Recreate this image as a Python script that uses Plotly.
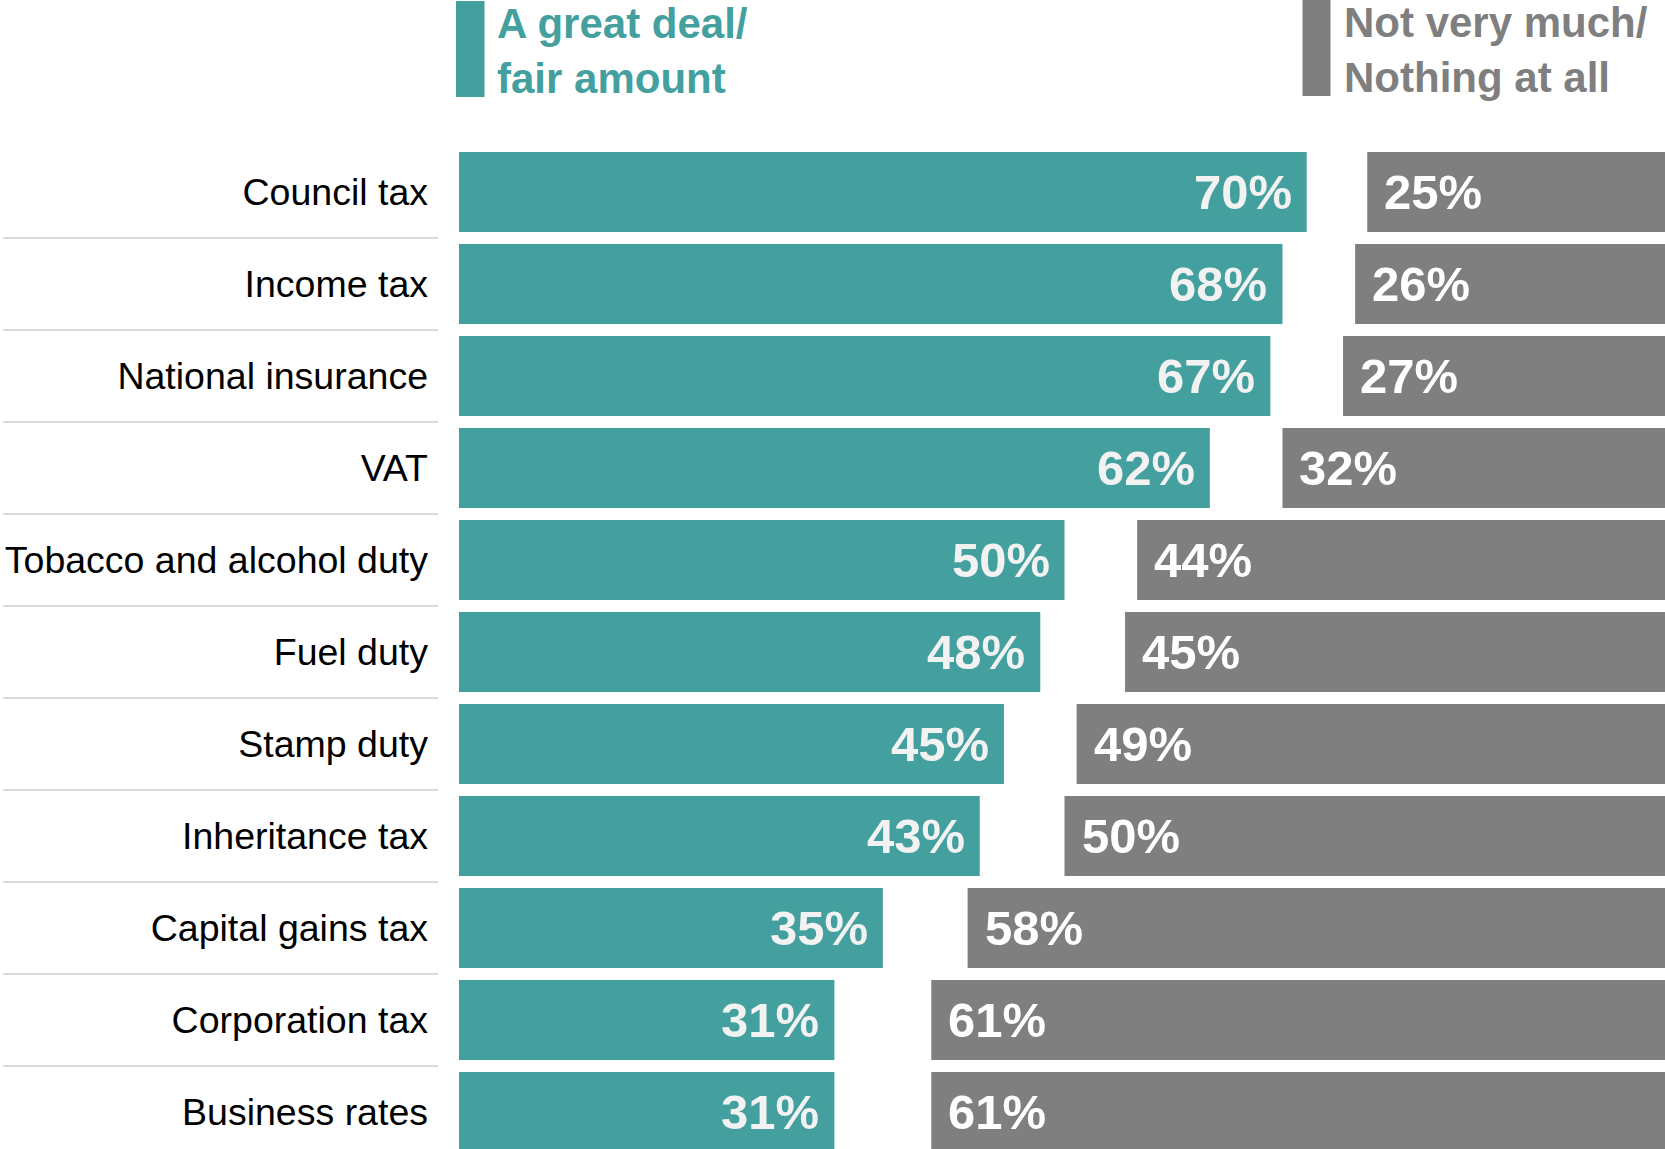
import plotly.graph_objects as go

categories = ["Council tax", "Income tax", "National insurance", "VAT",
              "Tobacco and alcohol duty", "Fuel duty", "Stamp duty",
              "Inheritance tax", "Capital gains tax", "Corporation tax",
              "Business rates"]
great_deal = [70, 68, 67, 62, 50, 48, 45, 43, 35, 31, 31]
not_much = [25, 26, 27, 32, 44, 45, 49, 50, 58, 61, 61]
series_names = ["A great deal/<br>fair amount", "Not very much/<br>Nothing at all"]

TEAL = "#43A09F"
GREY = "#7F7F7F"
FONT = "Liberation Sans, Arial, sans-serif"

W, H = 1665, 1149
ML, MT = 459, 146
PW, PH = W - ML, H - MT
PX_PER_PCT = 12.11
ROW_PX = 92

def px_x(s):
    return (s - ML) / PW

def px_y(s):
    return (H - s) / PH

fig = go.Figure()
fig.add_trace(go.Bar(
    y=categories, x=great_deal, base=[0] * len(great_deal), orientation="h",
    marker=dict(color=TEAL, line=dict(width=0)), width=0.87,
    name="great", hoverinfo="skip"))
fig.add_trace(go.Bar(
    y=categories, x=not_much, base=[100 - v for v in not_much], orientation="h",
    marker=dict(color=GREY, line=dict(width=0)), width=0.87,
    name="not", hoverinfo="skip"))

annotations = []
for c, g, n in zip(categories, great_deal, not_much):
    annotations.append(dict(
        x=g, y=c, xref="x", yref="y", text=f"<b>{g}%</b>", showarrow=False,
        xanchor="right", yanchor="middle", xshift=-13,
        font=dict(family=FONT, size=49, color="#F2F2F2")))
    annotations.append(dict(
        x=100 - n, y=c, xref="x", yref="y", text=f"<b>{n}%</b>", showarrow=False,
        xanchor="left", yanchor="middle", xshift=15,
        font=dict(family=FONT, size=49, color="#FFFFFF")))

# legend texts
annotations.append(dict(
    x=px_x(495), y=px_y(51), xref="paper", yref="paper",
    text=f"<b>{series_names[0]}</b>", showarrow=False, align="left",
    xanchor="left", yanchor="middle",
    font=dict(family=FONT, size=42, color=TEAL)))
annotations.append(dict(
    x=px_x(1342), y=px_y(50), xref="paper", yref="paper",
    text=f"<b>{series_names[1]}</b>", showarrow=False, align="left",
    xanchor="left", yanchor="middle",
    font=dict(family=FONT, size=42, color=GREY)))

shapes = [
    dict(type="rect", xref="paper", yref="paper",
         x0=px_x(456), x1=px_x(484.5), y0=px_y(1), y1=px_y(97),
         fillcolor=TEAL, line=dict(width=0)),
    dict(type="rect", xref="paper", yref="paper",
         x0=px_x(1302.5), x1=px_x(1330.5), y0=px_y(0), y1=px_y(96),
         fillcolor=GREY, line=dict(width=0)),
]
for i in range(len(categories) - 1):
    shapes.append(dict(
        type="line", xref="paper", yref="y",
        x0=px_x(3), x1=px_x(438), y0=i + 0.5, y1=i + 0.5,
        line=dict(color="#D9D9D9", width=2)))

fig.update_layout(
    width=W, height=H,
    margin=dict(l=ML, r=0, t=MT, b=0, pad=0),
    paper_bgcolor="white", plot_bgcolor="white",
    barmode="overlay", showlegend=False,
    annotations=annotations, shapes=shapes,
    xaxis=dict(range=[0, PW / PX_PER_PCT], visible=False, fixedrange=True),
    yaxis=dict(type="category", categoryorder="array", categoryarray=categories,
               range=[-0.5 + PH / ROW_PX, -0.5], showgrid=False, zeroline=False,
               showline=False, ticks="", ticklabelstandoff=30, fixedrange=True,
               tickfont=dict(family=FONT, size=37.5, color="#000000")),
)

fig.write_html("out.html",
               config={"displayModeBar": False},
               post_script="document.body.style.margin='0';document.body.style.overflow='hidden';")
